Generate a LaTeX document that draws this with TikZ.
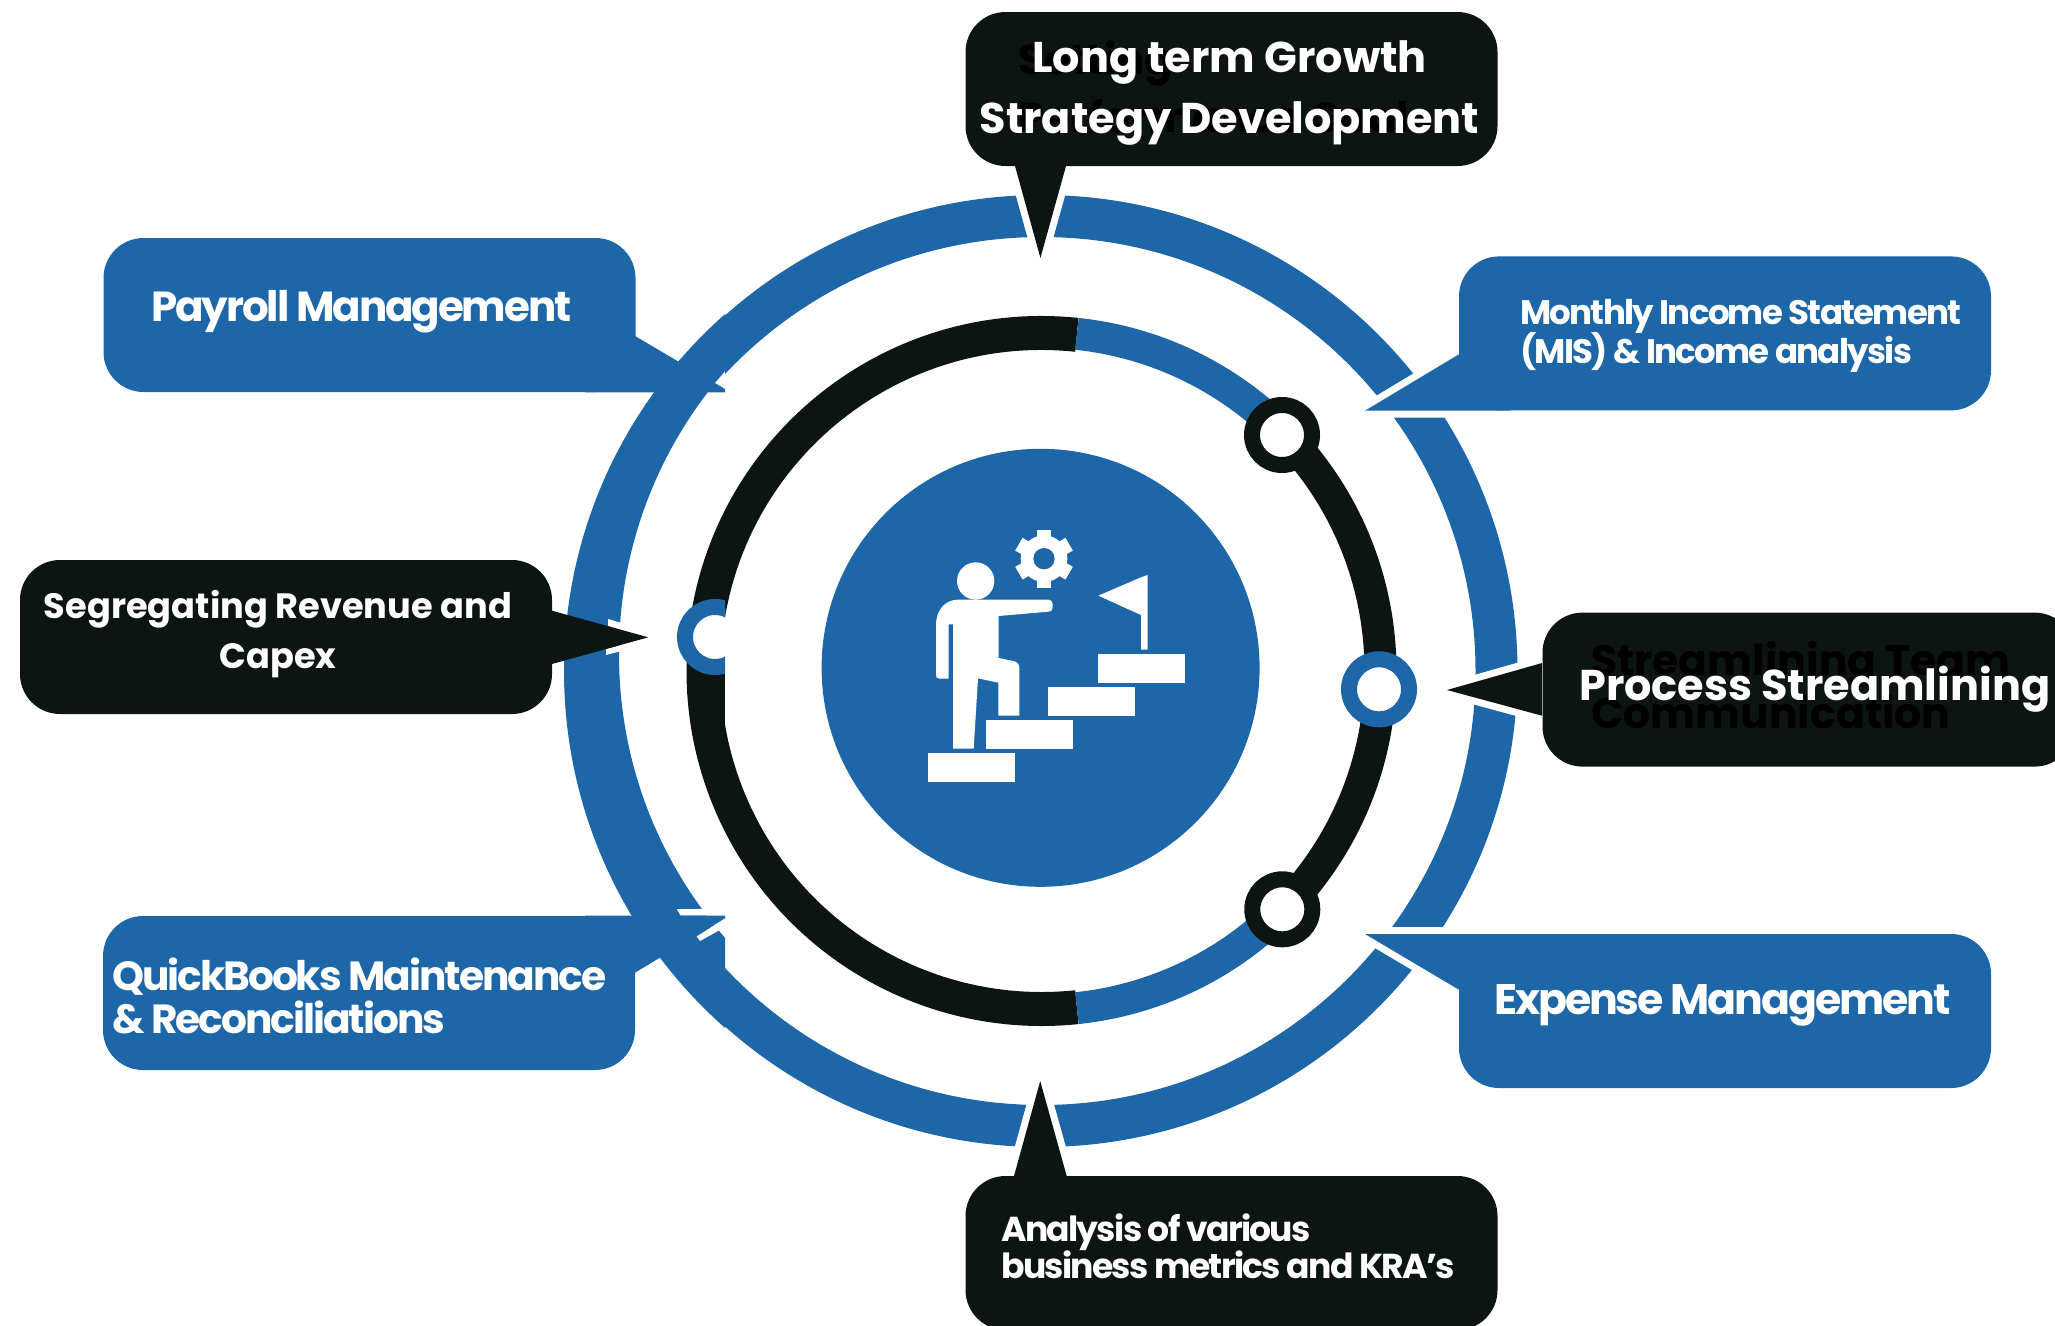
\documentclass[tikz,border=0pt]{standalone}
\usepackage{fontspec}
\setmainfont{Poppins}
\newfontfamily\tightfont{Poppins}[LetterSpace=-5.0]

\definecolor{ringblue}{HTML}{1D67A8}
\definecolor{ink}{HTML}{0D1512}

\tikzset{
    bubble/.style={fill=#1, rounded corners=40pt, minimum width=532pt, minimum height=154pt, inner sep=0pt},
    tipcut/.style={draw=white, line width=14pt, line join=round},
    ringdot/.style={circle, draw=#1, fill=white, line width=16pt, minimum size=60pt, inner sep=0pt},
    lbl/.style={text=white, inner sep=0pt, font=\bfseries\fontsize{#1}{#1}\selectfont},
    tlbl/.style={text=white, inner sep=0pt, font=\tightfont\bfseries\fontsize{#1}{#1}\selectfont},
    ghost/.style={text=black, inner sep=0pt, align=left, font=\bfseries\fontsize{#1}{#1}\selectfont}
}

\begin{document}
\begin{tikzpicture}[x=1pt, y=-1pt]

    \useasboundingbox (0,0) rectangle (2055,1325);

    \def\cx{1041.5}
    \def\cy{671}
    \def\cut{725}

    % outer ring, the part left of the cut does not line up
    \begin{scope}
        \clip (\cut,0) rectangle (2055,1325);
        \fill [ringblue, even odd rule] (\cx,\cy) circle (476) (\cx,\cy) circle (434);
    \end{scope}
    \begin{scope}
        \clip (0,0) rectangle (\cut,1325);
        \fill [ringblue, even odd rule] (1040,671) circle (476) (1050.7,654.5) circle (431.7);
    \end{scope}

    \fill [white] (676.7,909) -- (710,909) -- (710,915.7) -- (680.7,915.7) -- cycle;
    \fill [white] (696.7,936.5) -- (725,918.3) -- (725,925) -- (718,931) -- (700,941) -- cycle;
    \fill [white] (608,619) -- (625,624) -- (625,631) -- (608,626) -- cycle;
    \fill [white] (606,655) -- (625,650) -- (625,644) -- (606,649) -- cycle;

    \filldraw [ink, tipcut] (1015,166) -- (1040.4,258) -- (1066,166) -- cycle;
    \fill [ink] (1015,166) -- (1040.4,258) -- (1066,166) -- cycle;
    \filldraw [ink, tipcut] (1014,1176) -- (1040.2,1081) -- (1066.7,1176) -- cycle;
    \fill [ink] (1014,1176) -- (1040.2,1081) -- (1066.7,1176) -- cycle;
    \filldraw [ink, tipcut] (1542,663) -- (1447,690) -- (1542,715.7) -- cycle;
    \fill [ink] (1542,663) -- (1447,690) -- (1542,715.7) -- cycle;
    \filldraw [ringblue, tipcut] (1459.4,354) -- (1365,410.7) -- (1459.4,410.7) -- cycle;
    \fill [ringblue] (1459.4,354) -- (1365,410.7) -- (1510,410.7) -- (1510,354) -- cycle;
    \filldraw [ringblue, tipcut] (1459.4,990) -- (1365,934) -- (1459.4,934) -- cycle;
    \fill [ringblue] (1459.4,990) -- (1365,934) -- (1510,934) -- (1510,990) -- cycle;

    \fill [ink] (552,610.7) -- (648.3,637.3) -- (552,664) -- cycle;
    \fill [ringblue] (635,336) -- (725,389) -- (725,392.3) -- (585,392.3) -- (585,336) -- cycle;
    \fill [ringblue] (635,972.7) -- (725,918.3) -- (725,915.7) -- (585,915.7) -- (585,972.7) -- cycle;

    \node [bubble=ink] (growth) at (1231.5,89) {};
    \node [bubble=ink] (metrics) at (1231.5,1253) {};
    \node [bubble=ink] (streamline) at (1808.5,689.6) {};
    \node [bubble=ink] (revenue) at (286,637) {};
    \node [bubble=ringblue] (income) at (1725,333.4) {};
    \node [bubble=ringblue] (expense) at (1725,1011) {};
    \node [bubble=ringblue] (payroll) at (369.5,315) {};
    \node [bubble=ringblue] (books) at (369,993) {};

    % middle ring
    \draw [ink, line width=34pt] (\cx,\cy) ++(-84:338) arc [start angle=-84, end angle=-276, radius=338];
    \draw [ink, line width=32pt] (\cx,\cy) ++(-44:339) arc [start angle=-44, end angle=44, radius=339];
    \draw [ringblue, line width=32pt] (\cx,\cy) ++(-84:339) arc [start angle=-84, end angle=-44, radius=339];
    \draw [ringblue, line width=32pt] (\cx,\cy) ++(84:339) arc [start angle=84, end angle=44, radius=339];
    \fill [ink] (715,606) rectangle (\cut,735);

    \node [ringdot=ink] (dottop) at (1282,435) {};
    \node [ringdot=ink] (dotlow) at (1282.3,909.3) {};
    \node [ringdot=ringblue] (dotright) at (1379,689.3) {};
    \begin{scope}
        \clip (600,560) rectangle (\cut,720);
        \node [ringdot=ringblue] (dotleft) at (715,637) {};
    \end{scope}

    \node [circle, fill=ringblue, minimum size=438pt, inner sep=0pt] (hub) at (1040.6,667.8) {};

    % climber on the stairs, numbers are in third of a pixel
    \begin{scope}[shift={(900,500)}, scale=1/3]
        \foreach \sx/\sy in {84/759, 258/660, 444/561, 594/462}
            \fill [white] (\sx,\sy) rectangle ++(261,87);

        \fill [white] (227,243) circle (56);
        \fill [white] (175,299) -- (445,299) .. controls (455,299) and (458,308) .. (458,318)
            .. controls (458,328) and (455,335) .. (445,335) -- (296,348) -- (296,474) -- (340,483)
            .. controls (352,486) and (358,492) .. (358,505) -- (358,647) -- (295,647) -- (295,548)
            -- (234,535) -- (221,746) -- (159,746) -- (159,373) -- (146,373) -- (146,536) -- (118,536)
            .. controls (111,536) and (108,532) .. (108,525) -- (108,375)
            .. controls (108,330) and (135,299) .. (175,299) -- cycle;

        \fill [white] (595,287) -- (723,232) -- (743,225) -- (743,449) -- (723,449) -- (723,345) -- cycle;

        \fill [white] (432,176) circle (70);
        \foreach \a in {0,60,...,300}
            \fill [white, rotate around={\a:(432,176)}] (410,89) rectangle (454,125);
        \fill [ringblue] (432,176) circle (32);
    \end{scope}

    \node [ghost=42, anchor=west] (ghostgoals) at (1018,87) {Setting\\[12pt]Performance Goals};
    \node [ghost=42.5, anchor=west] (ghostteam) at (1591,685) {Streamlining Team\\[6pt]Communication};

    \node [lbl=43, align=center] (growthtext) at (1229.5,93) {Long term Growth\\[17pt]Strategy Development};
    \node [lbl=43, anchor=west] (processtext) at (1579,689) {Process Streamlining};
    \node [tlbl=34, anchor=west, align=left] (incometext) at (1520,336) {Monthly Income Statement\\[-2pt](MIS) \& Income analysis};
    \node [tlbl=42, anchor=west] (payrolltext) at (151,312) {Payroll Management};
    \node [lbl=35.2, align=center] (revenuetext) at (278,634) {Segregating Revenue and\\[14pt]Capex};
    \node [tlbl=40.7, anchor=west, align=left] (bookstext) at (112,996) {QuickBooks Maintenance\\[2pt]\& Reconciliations};
    \node [tlbl=42.7, anchor=west] (expensetext) at (1494,1005) {Expense Management};
    \node [tlbl=34.6, anchor=west, align=left] (metricstext) at (1001,1246) {Analysis of various\\[-1pt]business metrics and KRA’s};

\end{tikzpicture}
\end{document}
